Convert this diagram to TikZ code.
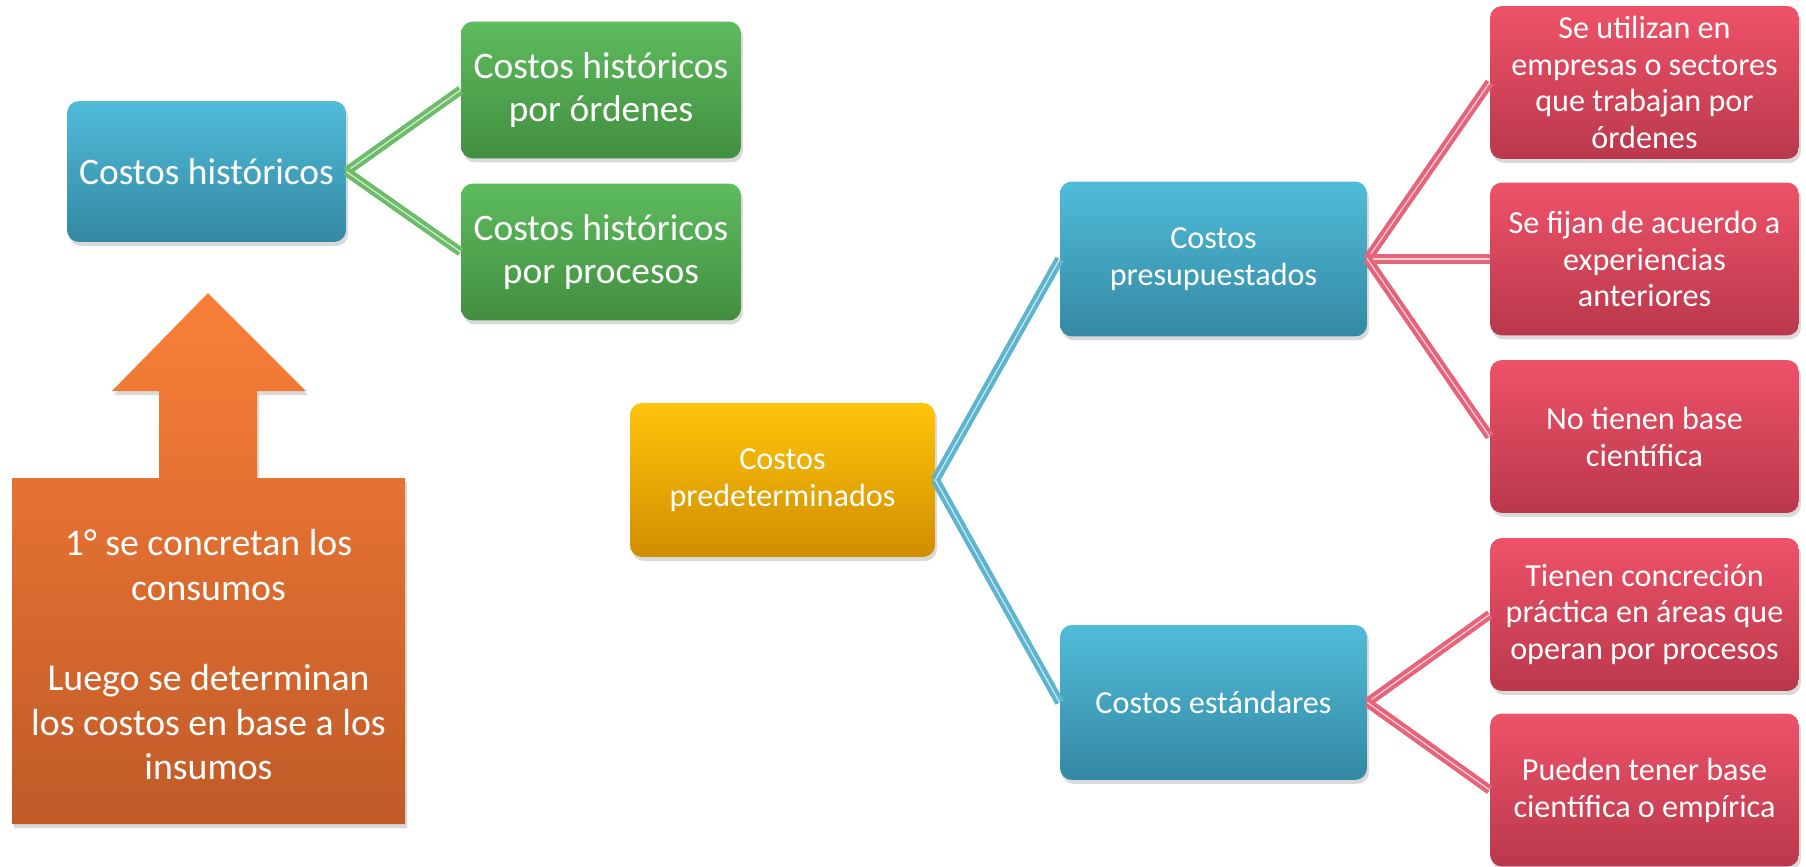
\documentclass[tikz,border=0pt]{standalone}
\usepackage{fontspec}
\setmainfont{Carlito}
\usetikzlibrary{shadows, positioning}
\usepackage{xcolor}

\definecolor{bluetop}{RGB}{80,188,218}
\definecolor{bluebot}{RGB}{52,136,162}
\definecolor{greentop}{RGB}{94,188,94}
\definecolor{greenbot}{RGB}{66,142,64}
\definecolor{yellowtop}{RGB}{255,196,10}
\definecolor{yellowbot}{RGB}{208,142,0}
\definecolor{redtop}{RGB}{238,82,104}
\definecolor{redbot}{RGB}{186,56,76}
\definecolor{orangetop}{RGB}{250,128,56}
\definecolor{orangebot}{RGB}{192,90,40}
\definecolor{linkgreen}{RGB}{108,188,106}
\definecolor{linkblue}{RGB}{92,180,206}
\definecolor{linkred}{RGB}{230,100,122}

\begin{document}
\begin{tikzpicture}[x=0.02cm, y=-0.02cm,
    box/.style={rounded corners=0.24cm, text=white, align=center, inner sep=2pt,
      drop shadow={shadow xshift=0.04cm, shadow yshift=-0.08cm, opacity=0.3}},
    bluebox/.style={box, top color=bluetop, bottom color=bluebot, minimum width=6.14cm, minimum height=3.1cm},
    greenbox/.style={box, top color=greentop, bottom color=greenbot, minimum width=5.6cm, minimum height=2.74cm},
    redbox/.style={box, top color=redtop, bottom color=redbot, minimum width=6.18cm, minimum height=3.06cm},
    link/.style={line width=2.3pt, double distance=0.7pt},
    big/.style={font=\fontsize{21.3}{24.5}\selectfont},
    small/.style={font=\fontsize{18.3}{21}\selectfont}
  ]
  \useasboundingbox (0,0) rectangle (1806,866);

  % left part
  \node[bluebox, big, minimum width=5.58cm, minimum height=2.82cm] (hist) at (206.5,171.5) {Costos históricos};
  \node[greenbox, big] (hord) at (601,90) {Costos históricos\\por órdenes};
  \node[greenbox, big] (hpro) at (601,252) {Costos históricos\\por procesos};
  \draw[link, linkgreen, double=linkgreen!30] (hist.east) -- (hord.west);
  \draw[link, linkgreen, double=linkgreen!30] (hist.east) -- (hpro.west);

  \shade[top color=orangetop, bottom color=orangebot,
    drop shadow={shadow xshift=0.04cm, shadow yshift=-0.08cm, opacity=0.3}]
    (12,478) -- (159,478) -- (159,391) -- (112,391) -- (208,293) -- (306,391)
    -- (257,391) -- (257,478) -- (405,478) -- (405,824) -- (12,824) -- cycle;
  \node[text=white, align=center, font=\fontsize{21.5}{25.5}\selectfont] (pasos) at (208.5,655)
    {1° se concretan los\\consumos\\[25.5pt]Luego se determinan\\los costos en base a los\\insumos};

  % right part
  \node[box, small, top color=yellowtop, bottom color=yellowbot, minimum width=6.1cm, minimum height=3.08cm] (pred) at (782.5,480) {Costos\\predeterminados};
  \node[bluebox, small] (pres) at (1213.5,259) {Costos\\presupuestados};
  \node[bluebox, small] (est) at (1213.5,702.5) {Costos estándares};
  \draw[link, linkblue, double=linkblue!30] (pred.east) -- (pres.west);
  \draw[link, linkblue, double=linkblue!30] (pred.east) -- (est.west);

  \node[redbox, small] (r1) at (1644.5,82.5) {Se utilizan en\\empresas o sectores\\que trabajan por\\órdenes};
  \node[redbox, small] (r2) at (1644.5,259) {Se fijan de acuerdo a\\experiencias\\anteriores};
  \node[redbox, small] (r3) at (1644.5,436.5) {No tienen base\\científica};
  \node[redbox, small] (r4) at (1644.5,614.5) {Tienen concreción\\práctica en áreas que\\operan por procesos};
  \node[redbox, small] (r5) at (1644.5,790) {Pueden tener base\\científica o empírica};
  \foreach \r in {r1,r2,r3}
    \draw[link, linkred, double=linkred!30] (pres.east) -- (\r.west);
  \foreach \r in {r4,r5}
    \draw[link, linkred, double=linkred!30] (est.east) -- (\r.west);
\end{tikzpicture}
\end{document}
